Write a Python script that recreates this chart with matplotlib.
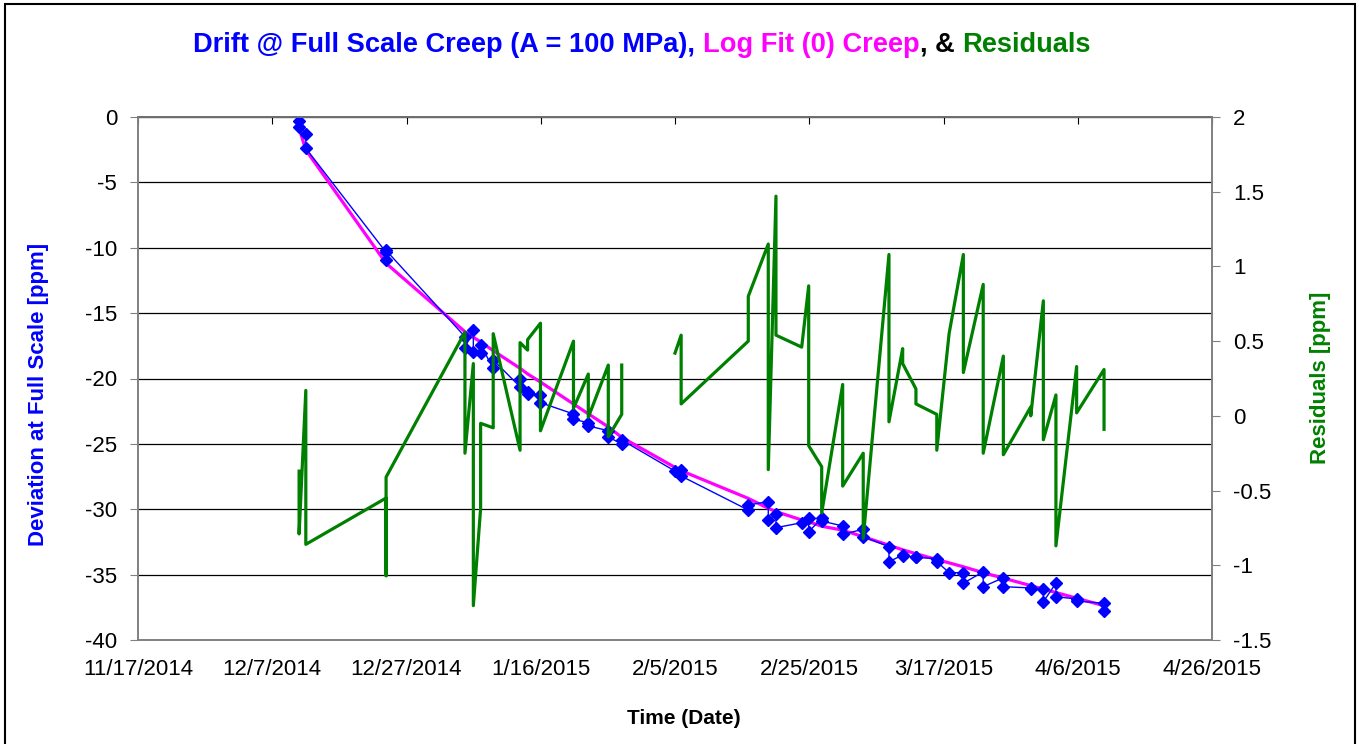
import matplotlib
matplotlib.use("Agg")
import matplotlib.pyplot as plt
import numpy as np
import pandas as pd
from matplotlib.patches import Rectangle

plt.rcParams['font.family'] = ['Liberation Sans', 'DejaVu Sans']

# ---------------- data ----------------
times = [
    "2014-12-11 00:00", "2014-12-11 00:00", "2014-12-12 00:00", "2014-12-12 00:00",
    "2014-12-23 23:00", "2014-12-23 23:00", "2014-12-23 23:00",
    "2015-01-04 17:00", "2015-01-04 17:00", "2015-01-05 23:00", "2015-01-05 23:00",
    "2015-01-07 01:00", "2015-01-07 01:00", "2015-01-08 22:00", "2015-01-08 22:00",
    "2015-01-12 22:00", "2015-01-12 22:00", "2015-01-14 01:00", "2015-01-14 01:00",
    "2015-01-15 23:00", "2015-01-15 23:00", "2015-01-20 21:00", "2015-01-20 21:00",
    "2015-01-23 02:00", "2015-01-23 02:00", "2015-01-26 01:30", "2015-01-26 01:30",
    "2015-01-28 01:30", "2015-01-28 01:30",
    "2015-02-05 00:00", "2015-02-05 22:00", "2015-02-05 22:00",
    "2015-02-15 22:00", "2015-02-15 22:00", "2015-02-18 21:30", "2015-02-18 21:30",
    "2015-02-20 01:00", "2015-02-20 01:00", "2015-02-23 21:00",
    "2015-02-24 22:00", "2015-02-24 22:00", "2015-02-26 20:30", "2015-02-26 20:30",
    "2015-03-01 23:30", "2015-03-01 23:30", "2015-03-05 01:00", "2015-03-05 01:00",
    "2015-03-08 21:00", "2015-03-08 21:00", "2015-03-10 22:00", "2015-03-10 22:00",
    "2015-03-12 21:30", "2015-03-12 21:30", "2015-03-16 00:00", "2015-03-16 00:00",
    "2015-03-17 20:00", "2015-03-19 23:00", "2015-03-19 23:00",
    "2015-03-22 22:00", "2015-03-22 22:00", "2015-03-25 22:00", "2015-03-25 22:00",
    "2015-03-30 00:00", "2015-03-30 00:00", "2015-03-31 21:00", "2015-03-31 21:00",
    "2015-04-02 18:00", "2015-04-02 18:00", "2015-04-05 20:00", "2015-04-05 20:00",
    "2015-04-09 22:00", "2015-04-09 22:00",
]

drift = [
    -0.28, -0.74, -1.28, -2.39,
    -10.35, -10.95, -10.20,
    -16.80, -17.64, -16.29, -17.95,
    -18.03, -17.44, -19.22, -18.59,
    -20.63, -20.04, -21.15, -21.05,
    -21.26, -21.85, -22.71, -23.12,
    -23.38, -23.63, -23.99, -24.45,
    -25.03, -24.70,
    -27.08, -27.00, -27.46,
    -30.06, -29.67, -29.42, -30.82,
    -30.39, -31.41, -31.03,
    -30.65, -31.72, -30.69, -30.90,
    -31.28, -31.92, -31.53, -32.10,
    -32.86, -34.01, -33.50, -33.58,
    -33.63, -33.69, -33.77, -34.00,
    -34.85, -34.85, -35.66,
    -34.78, -35.92, -35.24, -35.92,
    -36.02, -36.08, -36.12, -37.07,
    -35.66, -36.69, -36.86, -37.02,
    -37.19, -37.76,
]

residuals = [
    -0.37, -0.79, 0.17, -0.86,
    -0.55, -1.07, -0.41,
    0.56, -0.25, 0.35, -1.27,
    -0.62, -0.05, -0.08, 0.55,
    -0.23, 0.49, 0.44, 0.51,
    0.62, -0.10, 0.50, 0.05,
    0.28, -0.01, 0.34, -0.14,
    0.01, 0.34,
    0.42, 0.54, 0.08,
    0.50, 0.80, 1.15, -0.36,
    1.47, 0.54, 0.46,
    0.87, -0.20, -0.34, -0.65,
    0.21, -0.47, -0.25, -0.82,
    1.08, -0.04, 0.45, 0.35,
    0.18, 0.08, 0.01, -0.23,
    0.55, 1.08, 0.29,
    0.88, -0.25, 0.40, -0.26,
    0.06, 0.00, 0.77, -0.16,
    0.14, -0.87, 0.33, 0.02,
    0.31, -0.09,
]
# the residual line is broken (blank) after this date
residual_gap_after = "2015-01-28 01:30"

fit_times = [
    "2014-12-11 00:00", "2014-12-12 00:00", "2014-12-23 23:00",
    "2015-01-04 17:00", "2015-01-05 23:00", "2015-01-07 01:00", "2015-01-08 22:00",
    "2015-01-12 22:00", "2015-01-14 01:00", "2015-01-15 23:00", "2015-01-20 21:00",
    "2015-01-23 02:00", "2015-01-26 01:30", "2015-01-28 01:30",
    "2015-02-05 00:00", "2015-02-05 22:00", "2015-02-15 22:00", "2015-02-18 21:30",
    "2015-02-20 01:00", "2015-02-23 21:00", "2015-02-24 22:00", "2015-02-26 20:30",
    "2015-03-01 23:30", "2015-03-05 01:00", "2015-03-08 21:00", "2015-03-10 22:00",
    "2015-03-12 21:30", "2015-03-16 00:00", "2015-03-17 20:00", "2015-03-19 23:00",
    "2015-03-22 22:00", "2015-03-25 22:00", "2015-03-30 00:00", "2015-03-31 21:00",
    "2015-04-02 18:00", "2015-04-05 20:00", "2015-04-09 22:00",
]
fit_values = [
    -0.87, -2.52, -11.19,
    -16.42, -16.85, -17.20, -17.87,
    -19.22, -19.65, -20.27, -21.95,
    -22.70, -23.70, -24.50,
    -26.80, -27.05, -29.17, -29.93,
    -30.18, -30.82, -30.95, -31.30,
    -31.60, -32.10, -32.75, -33.10,
    -33.40, -33.85, -34.10, -34.40,
    -34.85, -35.27, -35.84, -36.11,
    -36.37, -36.80, -37.38,
]

x_tick_labels = ["11/17/2014", "12/7/2014", "12/27/2014", "1/16/2015",
                 "2/5/2015", "2/25/2015", "3/17/2015", "4/6/2015", "4/26/2015"]
left_ticks = [0, -5, -10, -15, -20, -25, -30, -35, -40]
right_ticks = [2, 1.5, 1, 0.5, 0, -0.5, -1, -1.5]
right_tick_labels = ["2", "1.5", "1", "0.5", "0", "-0.5", "-1", "-1.5"]

title_parts = [
    ("Drift @ Full Scale Creep (A = 100 MPa),", "#0000FF"),
    (" ", None),
    ("Log Fit (0) Creep", "#FF00FF"),
    (",", "#000000"),
    (" ", None),
    ("&", "#000000"),
    (" ", None),
    ("Residuals", "#008000"),
]

# ---------------- figure ----------------
W, H = 1359, 744
fig = plt.figure(figsize=(W / 100, H / 100), dpi=100)
fig.patch.set_facecolor("white")
fig.patches.append(Rectangle((5 / W, -0.02), (1355 - 5) / W, 1.02 - 4 / H,
                             transform=fig.transFigure, fill=False,
                             ec="black", lw=1.5))

L, R, T, B = 138, 1212, 117, 640
ax = fig.add_axes([L / W, (H - B) / H, (R - L) / W, (B - T) / H])
ax2 = ax.twinx()

t = pd.to_datetime(times)
ft = pd.to_datetime(fit_times)
d = np.array(drift)
res = np.array(residuals, dtype=float)

# fit (magenta), drift (blue)
ax.plot(ft, fit_values, color="#FF00FF", lw=2.3, zorder=2)
ax.plot(t, d, color="#0000FF", lw=1.0, marker="D", ms=6,
        mec="#0000FF", mfc="#0000FF", zorder=3)

# residuals (green) with blank break
gap = pd.Timestamp(residual_gap_after)
m1 = t <= gap
ax2.plot(t[m1], res[m1], color="#008000", lw=2.3)
ax2.plot(t[~m1], res[~m1], color="#008000", lw=2.3)

xt = pd.to_datetime(x_tick_labels, format="%m/%d/%Y")
ax.set_xlim(xt[0], xt[-1])
ax.set_xticks(xt)
ax.set_xticklabels(x_tick_labels)
ax.set_ylim(-40, 0)
ax.set_yticks(left_ticks)
ax.set_yticklabels([str(v) for v in left_ticks])
ax2.set_ylim(-1.5, 2)
ax2.set_yticks(right_ticks)
ax2.set_yticklabels(right_tick_labels)

ax.grid(axis="y", color="black", lw=0.9)
ax.set_axisbelow(True)

for a in (ax, ax2):
    for s in a.spines.values():
        s.set_color("#808080")
        s.set_linewidth(1.2)
ax.spines["top"].set_color("black")

ax.tick_params(axis="x", bottom=False, top=True, labelbottom=True, labeltop=False,
               direction="in", length=5, color="black", labelsize=16, pad=14)
ax.tick_params(axis="y", direction="out", length=6, color="#808080",
               labelsize=16, pad=9)
ax2.tick_params(axis="y", direction="out", length=6, color="#808080",
                labelsize=16, pad=9)

ax.set_xlabel("Time (Date)", fontsize=15, fontweight="bold", color="black")
ax.xaxis.set_label_coords((684 - L) / (R - L), (B - 709) / (B - T))
ax.set_ylabel("Deviation at Full Scale [ppm]", fontsize=16, fontweight="bold",
              color="#0000FF")
ax.yaxis.set_label_coords((49 - L) / (R - L), (B - 394) / (B - T))
ax2.set_ylabel("Residuals [ppm]", fontsize=16, fontweight="bold", color="#008000",
               rotation=90)
ax2.yaxis.set_label_coords((1310 - L) / (R - L), (B - 378) / (B - T))

# multicolour title
fig.canvas.draw()
rend = fig.canvas.get_renderer()
fs = 19.6
def width_of(s):
    tt = fig.text(0, 0, s, fontsize=fs, fontweight="bold")
    w = tt.get_window_extent(renderer=rend).width
    tt.remove()
    return w
space_w = width_of("a a") - width_of("aa")
x = 193.0
for txt, col in title_parts:
    if col is None:
        x += space_w
        continue
    tt = fig.text(x / W, 1 - 45 / H, txt, color=col, fontsize=fs,
                  fontweight="bold", ha="left", va="center")
    x += tt.get_window_extent(renderer=rend).width

fig.savefig("out.png", dpi=100)
